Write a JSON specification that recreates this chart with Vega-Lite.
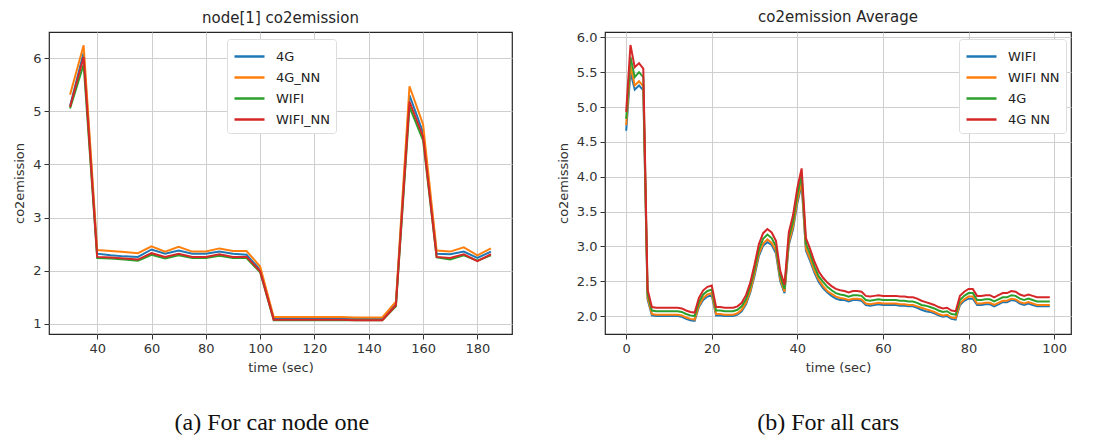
{
  "$schema": "https://vega.github.io/schema/vega-lite/v6.json",
  "padding": {"left": 13, "top": 9, "right": 0, "bottom": 0},
  "background": "white",
  "spacing": 43,
  "datasets": {
    "node1": [
      {"t": 30, "4G": 5.10, "4G_NN": 5.31, "WIFI": 5.05, "WIFI_NN": 5.08},
      {"t": 35, "4G": 6.10, "4G_NN": 6.24, "WIFI": 5.88, "WIFI_NN": 6.02},
      {"t": 40, "4G": 2.32, "4G_NN": 2.39, "WIFI": 2.24, "WIFI_NN": 2.26},
      {"t": 45, "4G": 2.29, "4G_NN": 2.37, "WIFI": 2.23, "WIFI_NN": 2.25},
      {"t": 50, "4G": 2.27, "4G_NN": 2.35, "WIFI": 2.21, "WIFI_NN": 2.23},
      {"t": 55, "4G": 2.26, "4G_NN": 2.33, "WIFI": 2.19, "WIFI_NN": 2.21},
      {"t": 60, "4G": 2.40, "4G_NN": 2.46, "WIFI": 2.30, "WIFI_NN": 2.33},
      {"t": 65, "4G": 2.32, "4G_NN": 2.36, "WIFI": 2.23, "WIFI_NN": 2.26},
      {"t": 70, "4G": 2.38, "4G_NN": 2.45, "WIFI": 2.29, "WIFI_NN": 2.32},
      {"t": 75, "4G": 2.32, "4G_NN": 2.36, "WIFI": 2.24, "WIFI_NN": 2.26},
      {"t": 80, "4G": 2.32, "4G_NN": 2.36, "WIFI": 2.24, "WIFI_NN": 2.26},
      {"t": 85, "4G": 2.36, "4G_NN": 2.42, "WIFI": 2.28, "WIFI_NN": 2.31},
      {"t": 90, "4G": 2.32, "4G_NN": 2.37, "WIFI": 2.24, "WIFI_NN": 2.26},
      {"t": 95, "4G": 2.30, "4G_NN": 2.37, "WIFI": 2.24, "WIFI_NN": 2.26},
      {"t": 100, "4G": 2.02, "4G_NN": 2.08, "WIFI": 1.97, "WIFI_NN": 1.99},
      {"t": 105, "4G": 1.10, "4G_NN": 1.13, "WIFI": 1.07, "WIFI_NN": 1.08},
      {"t": 110, "4G": 1.10, "4G_NN": 1.13, "WIFI": 1.07, "WIFI_NN": 1.08},
      {"t": 115, "4G": 1.10, "4G_NN": 1.13, "WIFI": 1.07, "WIFI_NN": 1.08},
      {"t": 120, "4G": 1.10, "4G_NN": 1.13, "WIFI": 1.07, "WIFI_NN": 1.08},
      {"t": 125, "4G": 1.10, "4G_NN": 1.13, "WIFI": 1.07, "WIFI_NN": 1.08},
      {"t": 130, "4G": 1.10, "4G_NN": 1.13, "WIFI": 1.07, "WIFI_NN": 1.08},
      {"t": 135, "4G": 1.09, "4G_NN": 1.12, "WIFI": 1.07, "WIFI_NN": 1.07},
      {"t": 140, "4G": 1.09, "4G_NN": 1.12, "WIFI": 1.07, "WIFI_NN": 1.07},
      {"t": 145, "4G": 1.09, "4G_NN": 1.12, "WIFI": 1.07, "WIFI_NN": 1.07},
      {"t": 150, "4G": 1.38, "4G_NN": 1.42, "WIFI": 1.33, "WIFI_NN": 1.35},
      {"t": 155, "4G": 5.30, "4G_NN": 5.47, "WIFI": 5.08, "WIFI_NN": 5.18},
      {"t": 160, "4G": 4.60, "4G_NN": 4.75, "WIFI": 4.45, "WIFI_NN": 4.52},
      {"t": 165, "4G": 2.32, "4G_NN": 2.38, "WIFI": 2.25, "WIFI_NN": 2.26},
      {"t": 170, "4G": 2.31, "4G_NN": 2.36, "WIFI": 2.21, "WIFI_NN": 2.24},
      {"t": 175, "4G": 2.36, "4G_NN": 2.44, "WIFI": 2.29, "WIFI_NN": 2.31},
      {"t": 180, "4G": 2.24, "4G_NN": 2.29, "WIFI": 2.19, "WIFI_NN": 2.18},
      {"t": 185, "4G": 2.36, "4G_NN": 2.42, "WIFI": 2.29, "WIFI_NN": 2.31}
    ],
    "avg": [
      {"t": 0, "WIFI": 4.66, "WIFI NN": 4.74, "4G": 4.83, "4G NN": 4.93},
      {"t": 1, "WIFI": 5.50, "WIFI NN": 5.60, "4G": 5.72, "4G NN": 5.89},
      {"t": 2, "WIFI": 5.25, "WIFI NN": 5.31, "4G": 5.43, "4G NN": 5.57},
      {"t": 3, "WIFI": 5.31, "WIFI NN": 5.37, "4G": 5.50, "4G NN": 5.63},
      {"t": 4, "WIFI": 5.24, "WIFI NN": 5.30, "4G": 5.43, "4G NN": 5.55},
      {"t": 5, "WIFI": 2.24, "WIFI NN": 2.27, "4G": 2.32, "4G NN": 2.38},
      {"t": 6, "WIFI": 2.01, "WIFI NN": 2.03, "4G": 2.08, "4G NN": 2.13},
      {"t": 7, "WIFI": 2.00, "WIFI NN": 2.02, "4G": 2.07, "4G NN": 2.12},
      {"t": 8, "WIFI": 2.00, "WIFI NN": 2.02, "4G": 2.07, "4G NN": 2.12},
      {"t": 9, "WIFI": 2.00, "WIFI NN": 2.02, "4G": 2.07, "4G NN": 2.12},
      {"t": 10, "WIFI": 2.00, "WIFI NN": 2.02, "4G": 2.07, "4G NN": 2.12},
      {"t": 11, "WIFI": 2.00, "WIFI NN": 2.02, "4G": 2.07, "4G NN": 2.12},
      {"t": 12, "WIFI": 2.00, "WIFI NN": 2.02, "4G": 2.07, "4G NN": 2.12},
      {"t": 13, "WIFI": 1.99, "WIFI NN": 2.01, "4G": 2.06, "4G NN": 2.11},
      {"t": 14, "WIFI": 1.96, "WIFI NN": 1.98, "4G": 2.03, "4G NN": 2.08},
      {"t": 15, "WIFI": 1.94, "WIFI NN": 1.96, "4G": 2.01, "4G NN": 2.06},
      {"t": 16, "WIFI": 1.93, "WIFI NN": 1.95, "4G": 2.00, "4G NN": 2.05},
      {"t": 17, "WIFI": 2.13, "WIFI NN": 2.15, "4G": 2.20, "4G NN": 2.26},
      {"t": 18, "WIFI": 2.23, "WIFI NN": 2.26, "4G": 2.31, "4G NN": 2.37},
      {"t": 19, "WIFI": 2.28, "WIFI NN": 2.31, "4G": 2.36, "4G NN": 2.42},
      {"t": 20, "WIFI": 2.30, "WIFI NN": 2.33, "4G": 2.38, "4G NN": 2.44},
      {"t": 21, "WIFI": 2.01, "WIFI NN": 2.03, "4G": 2.08, "4G NN": 2.13},
      {"t": 22, "WIFI": 2.01, "WIFI NN": 2.03, "4G": 2.08, "4G NN": 2.13},
      {"t": 23, "WIFI": 2.00, "WIFI NN": 2.02, "4G": 2.07, "4G NN": 2.12},
      {"t": 24, "WIFI": 2.00, "WIFI NN": 2.02, "4G": 2.07, "4G NN": 2.12},
      {"t": 25, "WIFI": 2.00, "WIFI NN": 2.02, "4G": 2.07, "4G NN": 2.12},
      {"t": 26, "WIFI": 2.02, "WIFI NN": 2.04, "4G": 2.09, "4G NN": 2.14},
      {"t": 27, "WIFI": 2.07, "WIFI NN": 2.09, "4G": 2.14, "4G NN": 2.19},
      {"t": 28, "WIFI": 2.17, "WIFI NN": 2.19, "4G": 2.24, "4G NN": 2.30},
      {"t": 29, "WIFI": 2.34, "WIFI NN": 2.36, "4G": 2.42, "4G NN": 2.48},
      {"t": 30, "WIFI": 2.58, "WIFI NN": 2.61, "4G": 2.67, "4G NN": 2.74},
      {"t": 31, "WIFI": 2.86, "WIFI NN": 2.89, "4G": 2.95, "4G NN": 3.03},
      {"t": 32, "WIFI": 3.01, "WIFI NN": 3.04, "4G": 3.11, "4G NN": 3.19},
      {"t": 33, "WIFI": 3.06, "WIFI NN": 3.10, "4G": 3.17, "4G NN": 3.25},
      {"t": 34, "WIFI": 3.02, "WIFI NN": 3.05, "4G": 3.12, "4G NN": 3.20},
      {"t": 35, "WIFI": 2.90, "WIFI NN": 2.94, "4G": 3.00, "4G NN": 3.08},
      {"t": 36, "WIFI": 2.50, "WIFI NN": 2.53, "4G": 2.58, "4G NN": 2.65},
      {"t": 37, "WIFI": 2.33, "WIFI NN": 2.35, "4G": 2.39, "4G NN": 2.45},
      {"t": 38, "WIFI": 3.02, "WIFI NN": 3.05, "4G": 3.12, "4G NN": 3.20},
      {"t": 39, "WIFI": 3.25, "WIFI NN": 3.29, "4G": 3.36, "4G NN": 3.45},
      {"t": 40, "WIFI": 3.62, "WIFI NN": 3.66, "4G": 3.74, "4G NN": 3.84},
      {"t": 41, "WIFI": 3.89, "WIFI NN": 3.93, "4G": 4.02, "4G NN": 4.12},
      {"t": 42, "WIFI": 2.94, "WIFI NN": 2.97, "4G": 3.04, "4G NN": 3.12},
      {"t": 43, "WIFI": 2.79, "WIFI NN": 2.82, "4G": 2.89, "4G NN": 2.96},
      {"t": 44, "WIFI": 2.62, "WIFI NN": 2.65, "4G": 2.71, "4G NN": 2.78},
      {"t": 45, "WIFI": 2.49, "WIFI NN": 2.52, "4G": 2.57, "4G NN": 2.64},
      {"t": 46, "WIFI": 2.40, "WIFI NN": 2.43, "4G": 2.49, "4G NN": 2.55},
      {"t": 47, "WIFI": 2.34, "WIFI NN": 2.36, "4G": 2.42, "4G NN": 2.48},
      {"t": 48, "WIFI": 2.29, "WIFI NN": 2.32, "4G": 2.37, "4G NN": 2.43},
      {"t": 49, "WIFI": 2.25, "WIFI NN": 2.28, "4G": 2.33, "4G NN": 2.39},
      {"t": 50, "WIFI": 2.23, "WIFI NN": 2.26, "4G": 2.31, "4G NN": 2.37},
      {"t": 51, "WIFI": 2.23, "WIFI NN": 2.25, "4G": 2.30, "4G NN": 2.36},
      {"t": 52, "WIFI": 2.21, "WIFI NN": 2.23, "4G": 2.28, "4G NN": 2.34},
      {"t": 53, "WIFI": 2.23, "WIFI NN": 2.25, "4G": 2.30, "4G NN": 2.36},
      {"t": 54, "WIFI": 2.23, "WIFI NN": 2.25, "4G": 2.30, "4G NN": 2.36},
      {"t": 55, "WIFI": 2.22, "WIFI NN": 2.24, "4G": 2.29, "4G NN": 2.35},
      {"t": 56, "WIFI": 2.16, "WIFI NN": 2.18, "4G": 2.23, "4G NN": 2.29},
      {"t": 57, "WIFI": 2.15, "WIFI NN": 2.17, "4G": 2.22, "4G NN": 2.28},
      {"t": 58, "WIFI": 2.16, "WIFI NN": 2.18, "4G": 2.23, "4G NN": 2.29},
      {"t": 59, "WIFI": 2.17, "WIFI NN": 2.19, "4G": 2.24, "4G NN": 2.30},
      {"t": 60, "WIFI": 2.16, "WIFI NN": 2.18, "4G": 2.23, "4G NN": 2.29},
      {"t": 61, "WIFI": 2.16, "WIFI NN": 2.18, "4G": 2.23, "4G NN": 2.29},
      {"t": 62, "WIFI": 2.16, "WIFI NN": 2.18, "4G": 2.23, "4G NN": 2.29},
      {"t": 63, "WIFI": 2.16, "WIFI NN": 2.18, "4G": 2.23, "4G NN": 2.29},
      {"t": 64, "WIFI": 2.15, "WIFI NN": 2.17, "4G": 2.22, "4G NN": 2.28},
      {"t": 65, "WIFI": 2.15, "WIFI NN": 2.17, "4G": 2.22, "4G NN": 2.28},
      {"t": 66, "WIFI": 2.14, "WIFI NN": 2.16, "4G": 2.21, "4G NN": 2.27},
      {"t": 67, "WIFI": 2.14, "WIFI NN": 2.16, "4G": 2.21, "4G NN": 2.27},
      {"t": 68, "WIFI": 2.12, "WIFI NN": 2.14, "4G": 2.19, "4G NN": 2.25},
      {"t": 69, "WIFI": 2.09, "WIFI NN": 2.12, "4G": 2.16, "4G NN": 2.22},
      {"t": 70, "WIFI": 2.07, "WIFI NN": 2.10, "4G": 2.15, "4G NN": 2.20},
      {"t": 71, "WIFI": 2.06, "WIFI NN": 2.08, "4G": 2.13, "4G NN": 2.18},
      {"t": 72, "WIFI": 2.04, "WIFI NN": 2.06, "4G": 2.11, "4G NN": 2.16},
      {"t": 73, "WIFI": 2.01, "WIFI NN": 2.03, "4G": 2.08, "4G NN": 2.13},
      {"t": 74, "WIFI": 1.99, "WIFI NN": 2.01, "4G": 2.06, "4G NN": 2.11},
      {"t": 75, "WIFI": 2.00, "WIFI NN": 2.02, "4G": 2.07, "4G NN": 2.12},
      {"t": 76, "WIFI": 1.96, "WIFI NN": 1.98, "4G": 2.03, "4G NN": 2.08},
      {"t": 77, "WIFI": 1.95, "WIFI NN": 1.97, "4G": 2.02, "4G NN": 2.07},
      {"t": 78, "WIFI": 2.16, "WIFI NN": 2.18, "4G": 2.23, "4G NN": 2.29},
      {"t": 79, "WIFI": 2.22, "WIFI NN": 2.24, "4G": 2.29, "4G NN": 2.35},
      {"t": 80, "WIFI": 2.25, "WIFI NN": 2.28, "4G": 2.33, "4G NN": 2.39},
      {"t": 81, "WIFI": 2.25, "WIFI NN": 2.28, "4G": 2.33, "4G NN": 2.39},
      {"t": 82, "WIFI": 2.16, "WIFI NN": 2.18, "4G": 2.23, "4G NN": 2.29},
      {"t": 83, "WIFI": 2.16, "WIFI NN": 2.18, "4G": 2.23, "4G NN": 2.29},
      {"t": 84, "WIFI": 2.17, "WIFI NN": 2.19, "4G": 2.24, "4G NN": 2.30},
      {"t": 85, "WIFI": 2.17, "WIFI NN": 2.19, "4G": 2.24, "4G NN": 2.30},
      {"t": 86, "WIFI": 2.14, "WIFI NN": 2.16, "4G": 2.21, "4G NN": 2.27},
      {"t": 87, "WIFI": 2.17, "WIFI NN": 2.19, "4G": 2.24, "4G NN": 2.30},
      {"t": 88, "WIFI": 2.20, "WIFI NN": 2.22, "4G": 2.27, "4G NN": 2.33},
      {"t": 89, "WIFI": 2.20, "WIFI NN": 2.22, "4G": 2.27, "4G NN": 2.33},
      {"t": 90, "WIFI": 2.23, "WIFI NN": 2.25, "4G": 2.30, "4G NN": 2.36},
      {"t": 91, "WIFI": 2.22, "WIFI NN": 2.24, "4G": 2.29, "4G NN": 2.35},
      {"t": 92, "WIFI": 2.18, "WIFI NN": 2.20, "4G": 2.25, "4G NN": 2.31},
      {"t": 93, "WIFI": 2.16, "WIFI NN": 2.18, "4G": 2.23, "4G NN": 2.29},
      {"t": 94, "WIFI": 2.18, "WIFI NN": 2.20, "4G": 2.25, "4G NN": 2.31},
      {"t": 95, "WIFI": 2.16, "WIFI NN": 2.18, "4G": 2.23, "4G NN": 2.29},
      {"t": 96, "WIFI": 2.14, "WIFI NN": 2.16, "4G": 2.21, "4G NN": 2.27},
      {"t": 97, "WIFI": 2.14, "WIFI NN": 2.16, "4G": 2.21, "4G NN": 2.27},
      {"t": 98, "WIFI": 2.14, "WIFI NN": 2.16, "4G": 2.21, "4G NN": 2.27},
      {"t": 99, "WIFI": 2.14, "WIFI NN": 2.16, "4G": 2.21, "4G NN": 2.27}
    ]
  },
  "hconcat": [
    {
      "title": {"text": "(a) For car node one", "orient": "bottom", "font": "Liberation Serif", "fontSize": 24, "fontWeight": "normal", "color": "#111", "offset": 36, "dx": 9, "anchor": "middle"},
      "vconcat": [
        {
          "width": 463,
          "height": 302,
          "title": {"text": "node[1] co2emission", "frame": "group", "offset": 6},
          "data": {"name": "node1"},
          "transform": [{"fold": ["4G", "4G_NN", "WIFI", "WIFI_NN"], "as": ["series", "value"]}],
          "mark": {"type": "line", "strokeWidth": 2, "clip": true},
          "encoding": {
            "x": {"field": "t", "type": "quantitative", "scale": {"domain": [22.25, 192.75], "nice": false, "zero": false}, "axis": {"values": [40, 60, 80, 100, 120, 140, 160, 180], "title": "time (sec)"}},
            "y": {"field": "value", "type": "quantitative", "scale": {"domain": [0.81, 6.49], "nice": false, "zero": false}, "axis": {"values": [1, 2, 3, 4, 5, 6], "title": "co2emission"}},
            "color": {"field": "series", "type": "nominal", "scale": {"domain": ["4G", "4G_NN", "WIFI", "WIFI_NN"], "range": ["#1f77b4", "#ff7f0e", "#2ca02c", "#d62728"]}, "legend": {"title": null, "orient": "none", "legendX": 178, "legendY": 7}}
          }
        }
      ]
    },
    {
      "title": {"text": "(b) For all cars", "orient": "bottom", "font": "Liberation Serif", "fontSize": 24, "fontWeight": "normal", "color": "#111", "offset": 36, "dx": 14, "anchor": "middle"},
      "vconcat": [
        {
          "width": 466,
          "height": 302,
          "title": {"text": "co2emission Average", "frame": "group", "offset": 6},
          "data": {"name": "avg"},
          "transform": [{"fold": ["WIFI", "WIFI NN", "4G", "4G NN"], "as": ["series", "value"]}],
          "mark": {"type": "line", "strokeWidth": 2, "clip": true},
          "encoding": {
            "x": {"field": "t", "type": "quantitative", "scale": {"domain": [-4.95, 103.95], "nice": false, "zero": false}, "axis": {"values": [0, 20, 40, 60, 80, 100], "title": "time (sec)"}},
            "y": {"field": "value", "type": "quantitative", "scale": {"domain": [1.743, 6.077], "nice": false, "zero": false}, "axis": {"values": [2.0, 2.5, 3.0, 3.5, 4.0, 4.5, 5.0, 5.5, 6.0], "format": ".1f", "title": "co2emission"}},
            "color": {"field": "series", "type": "nominal", "scale": {"domain": ["WIFI", "WIFI NN", "4G", "4G NN"], "range": ["#1f77b4", "#ff7f0e", "#2ca02c", "#d62728"]}, "legend": {"title": null, "orient": "none", "legendX": 354, "legendY": 7}}
          }
        }
      ]
    }
  ],
  "resolve": {"scale": {"color": "independent"}},
  "config": {
    "font": "DejaVu Sans",
    "view": {"stroke": "#262626", "strokeWidth": 1.2},
    "concat": {"spacing": 0},
    "axis": {"grid": true, "gridColor": "#cfcfcf", "gridWidth": 1, "domain": false, "tickColor": "#333333", "tickSize": 5, "labelFontSize": 13, "labelColor": "#333333", "labelPadding": 3, "titleFontSize": 13, "titleFontWeight": "normal", "titleColor": "#333333", "titlePadding": 6},
    "title": {"fontSize": 15, "fontWeight": "normal", "color": "#262626"},
    "legend": {"labelFontSize": 13, "labelColor": "#222222", "symbolType": "M-1,0L2,0", "symbolStrokeWidth": 2.5, "symbolSize": 400, "fillColor": "white", "strokeColor": "#dddddd", "padding": 6, "cornerRadius": 3, "rowPadding": 2, "labelOffset": 20}
  }
}
